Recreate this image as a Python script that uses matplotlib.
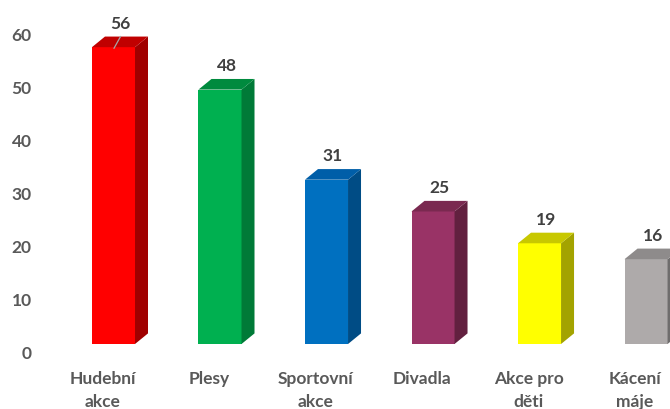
import matplotlib.pyplot as plt
from matplotlib.patches import Polygon
from matplotlib.transforms import ScaledTranslation

categories = ["Hudební\nakce", "Plesy", "Sportovní\nakce", "Divadla", "Akce pro\nděti", "Kácení\nmáje"]
values = [56, 48, 31, 25, 19, 16]
yticks = [0, 10, 20, 30, 40, 50, 60]

# front / top / side shades for each column
front = ["#FF0000", "#00B050", "#0070C0", "#993366", "#FFFF00", "#AEAAAA"]
top = ["#C00000", "#008A3E", "#005EA8", "#7A2950", "#C8C800", "#8E8B8B"]
side = ["#A00000", "#007A37", "#004C85", "#62203F", "#A3A300", "#6F6D6D"]

plt.rcParams['font.family'] = ['Lato', 'DejaVu Sans']

W, H = 670, 410
fig = plt.figure(figsize=(W / 100, H / 100), dpi=100)
ax = fig.add_axes([40 / W, 65 / H, 630 / W, 335 / H])
ax.set_xlim(-0.69, 5.225)
ax.set_ylim(0, 63.2)

bw = 0.404   # width of the front face
dx = 0.122   # depth offset, x
dy = 2.0     # depth offset, y

for i, v in enumerate(values):
    l, r = i - bw / 2, i + bw / 2
    ax.add_patch(Polygon([(l, 0), (r, 0), (r, v), (l, v)], closed=True,
                         facecolor=front[i], edgecolor='none', clip_on=False))
    ax.add_patch(Polygon([(r, 0), (r + dx, dy), (r + dx, v + dy), (r, v)], closed=True,
                         facecolor=side[i], edgecolor='none', clip_on=False))
    ax.add_patch(Polygon([(l, v), (r, v), (r + dx, v + dy), (l + dx, v + dy)], closed=True,
                         facecolor=top[i], edgecolor='none', clip_on=False))
    ax.annotate(str(v), (i + dx / 2, v + dy), xytext=(0, 10), textcoords='offset points',
                ha='center', va='center', fontsize=12.5, fontweight='bold',
                color='#404040', annotation_clip=False)

# leader line of the first label
ax.plot([dx / 2 + 0.005, 0.005], [values[0] + dy, values[0] - 0.2],
        color='#A6A6A6', lw=0.9, clip_on=False)

ax.set_yticks(yticks)
ax.set_yticklabels([str(t) for t in yticks])
ax.set_xticks(range(len(categories)))
ax.set_xticklabels(categories, linespacing=1.5)
ax.tick_params(axis='y', length=0, pad=6, labelsize=12.5, labelcolor='#595959')
ax.tick_params(axis='x', length=0, pad=19, labelsize=12.5, labelcolor='#595959')
for lab in ax.get_yticklabels():
    lab.set_fontweight('bold')
    lab.set_transform(lab.get_transform() + ScaledTranslation(0, -0.08, fig.dpi_scale_trans))
for lab in ax.get_xticklabels():
    lab.set_fontweight('bold')
    lab.set_transform(lab.get_transform() + ScaledTranslation(-0.11, 0, fig.dpi_scale_trans))

for s in ax.spines.values():
    s.set_visible(False)
ax.patch.set_visible(False)

fig.savefig('out.png', dpi=100)
